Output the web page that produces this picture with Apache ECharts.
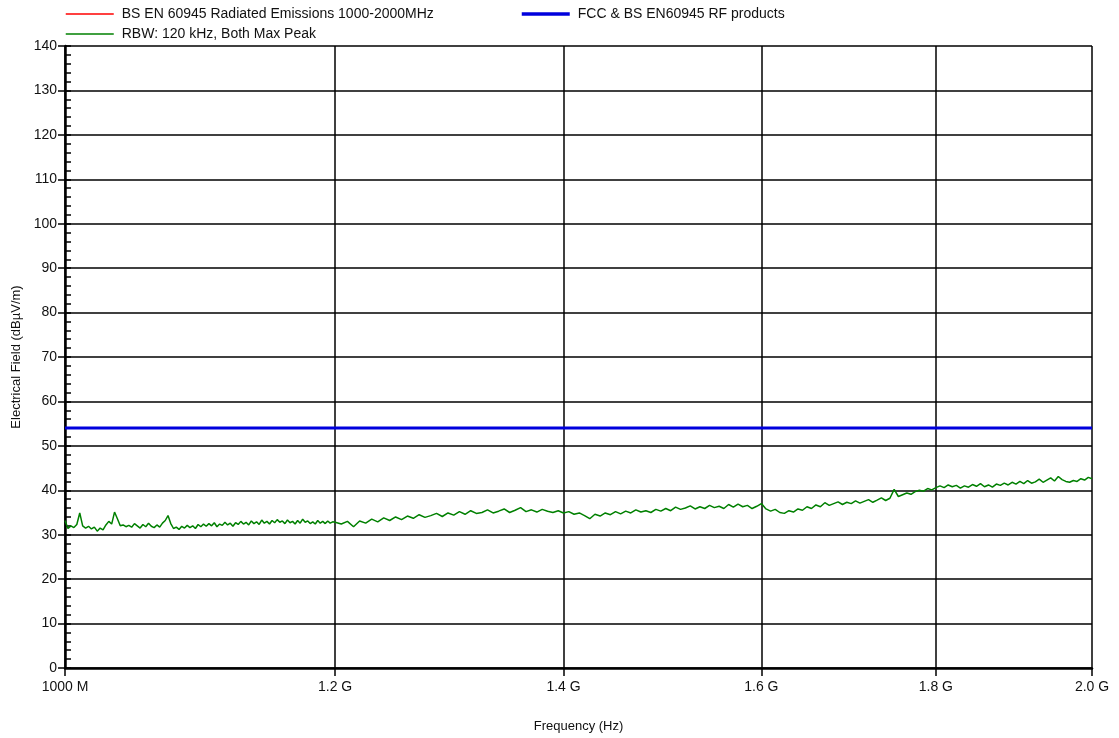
<!DOCTYPE html>
<html>
<head>
<meta charset="utf-8">
<script src="https://cdn.jsdelivr.net/npm/echarts@6/dist/echarts.min.js"></script>
<style>
html,body{margin:0;padding:0;background:#fff;}
#chart{width:1119px;height:738px;}
</style>
</head>
<body>
<div id="chart"></div>
<script>
// Sweep segment A (MHz): fine steps from 1000 to 1198
const sweepAStartMHz = 1000;
const sweepAStepMHz = 2;
const levelsA = [
  33.2,31.4,32.0,31.6,32.3,34.9,32.0,31.5,31.9,31.3,
  31.7,30.8,31.5,31.1,32.2,33.0,32.4,35.1,33.6,32.0,
  32.2,31.8,32.1,31.7,32.5,32.0,31.5,32.3,31.8,32.6,
  31.9,31.6,32.2,31.7,32.6,33.2,34.3,32.5,31.4,31.7,
  31.2,31.9,31.5,32.1,31.6,32.0,31.4,32.3,31.8,32.4,
  31.9,32.5,32.0,32.7,31.8,32.4,32.1,32.8,32.2,32.6,
  31.9,32.7,32.3,33.0,32.4,32.8,32.2,33.1,32.5,32.9,
  32.3,33.3,32.6,33.0,32.4,33.2,32.7,33.4,32.8,33.1,
  32.5,33.3,32.7,33.0,32.4,33.2,32.6,33.5,32.8,33.1,
  32.5,32.9,32.4,33.2,32.6,33.0,32.5,33.1,32.6,32.9
];
// Sweep segment B (MHz): 1200 to 2000 in 5 MHz steps
const sweepBStartMHz = 1200;
const sweepBStepMHz = 5;
const levelsB = [
  32.8,32.4,33.0,31.8,33.1,32.6,33.5,32.9,33.8,33.2,
  34.0,33.4,34.2,33.7,34.5,33.9,34.3,34.8,34.1,34.9,
  34.4,35.2,34.6,35.4,34.8,35.0,35.6,34.9,35.3,35.8,
  35.0,35.5,36.1,35.2,35.6,35.1,35.7,35.3,35.0,35.4,
  34.9,35.2,34.6,34.9,34.3,33.6,34.6,34.2,34.9,34.5,
  35.2,34.7,35.3,34.9,35.6,35.1,35.4,35.0,35.7,35.3,
  35.9,35.4,36.2,35.7,36.0,36.5,35.8,36.3,35.9,36.6,
  36.1,36.4,35.9,36.8,36.2,36.9,36.3,36.6,35.9,36.4,
  37.0,35.8,35.3,35.7,35.0,34.8,35.4,35.1,35.8,35.5,
  36.3,35.9,36.7,36.3,37.2,36.6,37.0,37.4,36.8,37.3,
  37.0,37.6,37.1,37.5,37.9,37.3,37.8,38.3,37.7,38.2,
  40.2,38.6,39.0,39.4,39.1,39.7,40.0,39.8,40.4,40.1,
  40.6,41.0,40.6,41.2,40.8,41.1,40.5,41.0,40.7,41.3,
  40.9,41.5,40.8,41.2,40.7,41.4,41.1,41.6,41.2,41.8,
  41.4,42.0,41.5,42.2,41.6,41.9,42.5,41.8,42.3,42.8,
  42.1,43.1,42.4,42.0,41.8,42.2,42.0,42.6,42.3,42.9,
  42.6
];
// Limit line (dBµV/m) across the band
const limitFreqs = [1000, 2000];
const limitLevels = [54, 54];
// Axis ticks
const xTickValues = [1000, 1200, 1400, 1600, 1800, 2000];
const xTickLabels = ['1000 M', '1.2 G', '1.4 G', '1.6 G', '1.8 G', '2.0 G'];
const yMin = 0, yMax = 140, yStep = 10;

const seriesNames = [
  'BS EN 60945 Radiated Emissions 1000-2000MHz',
  'FCC & BS EN60945 RF products',
  'RBW: 120 kHz, Both Max Peak'
];

const measured = levelsA.map((v, i) => [sweepAStartMHz + i * sweepAStepMHz, v])
  .concat(levelsB.map((v, i) => [sweepBStartMHz + i * sweepBStepMHz, v]));
const limit = limitFreqs.map((f, i) => [f, limitLevels[i]]);

const FONT = 'Liberation Sans, Arial, sans-serif';
const chart = echarts.init(document.getElementById('chart'));
const legendBase = {
  orient: 'horizontal', itemWidth: 48, itemHeight: 14, itemGap: 10, padding: 0,
  textStyle: { fontFamily: FONT, fontSize: 14, color: '#111', padding: [0, 0, 0, 3] },
  itemStyle: { opacity: 0 },
  selectedMode: false
};
function legendItem(idx, width) {
  return { name: seriesNames[idx], itemStyle: { opacity: 0 }, lineStyle: { width: width } };
}
chart.setOption({
  animation: false,
  backgroundColor: '#fff',
  legend: [
    Object.assign({}, legendBase, { data: [legendItem(0, 1.5)], left: 65, top: 7 }),
    Object.assign({}, legendBase, { data: [legendItem(1, 3.5)], left: 520, top: 7 }),
    Object.assign({}, legendBase, { data: [legendItem(2, 1.5)], left: 65, top: 27 })
  ],
  grid: { left: 65, right: 27, top: 46, bottom: 70, containLabel: false, outerBoundsMode: 'none' },
  xAxis: {
    type: 'log', logBase: 10, min: 1000, max: 2000,
    name: 'Frequency (Hz)', nameLocation: 'middle', nameGap: 52,
    nameTextStyle: { fontFamily: FONT, fontSize: 13, color: '#111' },
    axisLine: { show: true, lineStyle: { color: '#000', width: 2.5 } },
    axisTick: { show: true, customValues: xTickValues, length: 8, lineStyle: { color: '#000', width: 1.5 } },
    axisLabel: {
      customValues: xTickValues, fontFamily: FONT, fontSize: 14, color: '#111', margin: 12,
      formatter: (v) => { const i = xTickValues.findIndex(t => Math.abs(t - v) < 1e-6); return i >= 0 ? xTickLabels[i] : ''; }
    },
    splitLine: { show: true, lineStyle: { color: '#000', width: 1.5 } },
    minorTick: { show: false }, minorSplitLine: { show: false }
  },
  yAxis: [
    {
      type: 'value', min: yMin, max: yMax, interval: yStep,
      name: 'Electrical Field (dBµV/m)', nameLocation: 'middle', nameGap: 42,
      nameTextStyle: { fontFamily: FONT, fontSize: 13, color: '#111' },
      axisLine: { show: true, lineStyle: { color: '#000', width: 2.5 } },
      axisTick: { show: true, length: 7, lineStyle: { color: '#000', width: 1.5 } },
      axisLabel: { fontFamily: FONT, fontSize: 14, color: '#111', margin: 8 },
      splitLine: { show: true, lineStyle: { color: '#000', width: 1.5 } }
    },
    {
      type: 'value', min: yMin, max: yMax, interval: yStep, position: 'left',
      axisLine: { show: false },
      axisTick: { show: true, inside: true, length: 6, lineStyle: { color: '#000', width: 1.5 } },
      minorTick: { show: true, splitNumber: 5, length: 6, lineStyle: { color: '#000', width: 1.5 } },
      axisLabel: { show: false },
      splitLine: { show: false }
    }
  ],
  series: [
    { name: seriesNames[0], type: 'line', data: [], symbol: 'none', lineStyle: { color: '#ff0000', width: 1.5 }, itemStyle: { color: '#ff0000' } },
    { name: seriesNames[1], type: 'line', data: limit, symbol: 'none', z: 3, lineStyle: { color: '#0000dd', width: 3 }, itemStyle: { color: '#0000dd' } },
    { name: seriesNames[2], type: 'line', data: measured, symbol: 'none', z: 4, lineStyle: { color: '#008000', width: 1.5 }, itemStyle: { color: '#008000' } }
  ]
});
</script>
</body>
</html>
